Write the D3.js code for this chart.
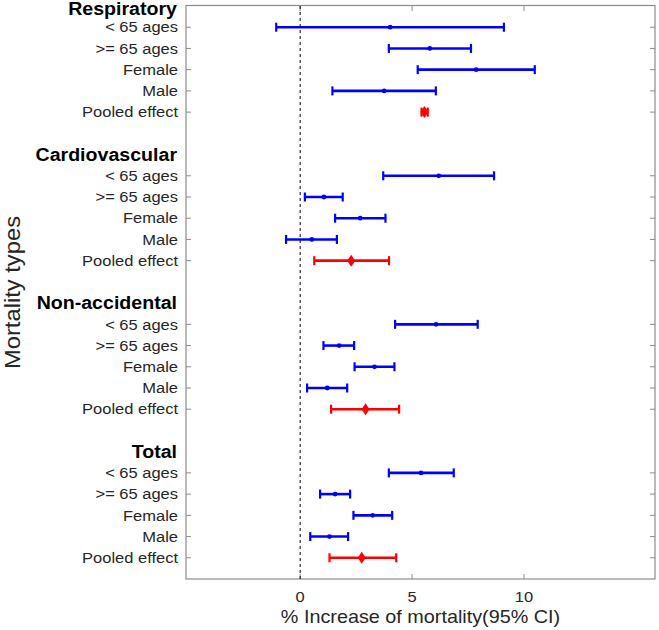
<!DOCTYPE html>
<html><head><meta charset="utf-8">
<script src="https://cdn.jsdelivr.net/npm/d3@7/dist/d3.min.js"></script>
<style>body{margin:0;background:#fff}svg{display:block}text{font-family:"Liberation Sans",Arial,sans-serif}</style>
</head><body><div id="chart"></div>
<script>
const groups = ["Respiratory", "Cardiovascular", "Non-accidental", "Total"];
const subgroups = ["< 65 ages", ">= 65 ages", "Female", "Male", "Pooled effect"];
const estimates = [
  [4.02, 5.79, 7.86, 3.75, 5.55],
  [6.19, 1.06, 2.68, 0.52, 2.28],
  [6.07, 1.74, 3.32, 1.21, 2.92],
  [5.40, 1.56, 3.24, 1.31, 2.75]
];
const lowers = [
  [-1.07, 3.96, 5.25, 1.44, 5.42],
  [3.71, 0.21, 1.56, -0.63, 0.63],
  [4.24, 1.04, 2.43, 0.31, 1.38],
  [3.96, 0.89, 2.38, 0.45, 1.31]
];
const uppers = [
  [9.10, 7.63, 10.48, 6.06, 5.70],
  [8.66, 1.90, 3.81, 1.64, 3.97],
  [7.93, 2.41, 4.21, 2.10, 4.42],
  [6.86, 2.23, 4.11, 2.14, 4.29]
];
const xTicks = [0, 5, 10];
const xTitle = "% Increase of mortality(95% CI)";
const yTitle = "Mortality types";

const W = 659, H = 630;
const L = 186, R = 655, T = 6, B = 579;
const SX = 1.1; // horizontal glyph stretch seen in the reference
const svg = d3.select("#chart").append("svg").attr("width", W).attr("height", H);
const x = d3.scaleLinear().domain([-5.1, 15.85]).range([L, R]);
const y = d3.scaleLinear().domain([0, 27]).range([T, B]);

const rows = [];
groups.forEach((g, gi) => subgroups.forEach((s, si) => rows.push({
  g: gi, label: s, idx: gi * 7 + 1 + si, est: estimates[gi][si], lo: lowers[gi][si], hi: uppers[gi][si], pooled: si === 4
})));

const axisCol = "#8c8c8c";
svg.append("rect").attr("x", L).attr("y", T - 0.5).attr("width", R - L).attr("height", B - T + 0.5)
  .attr("fill", "none").attr("stroke", axisCol).attr("stroke-width", 1.2);

const tickG = svg.append("g");
rows.forEach(r => {
  tickG.append("line").attr("x1", L).attr("x2", L + 5).attr("y1", y(r.idx)).attr("y2", y(r.idx)).attr("stroke", axisCol);
  tickG.append("line").attr("x1", R - 5).attr("x2", R).attr("y1", y(r.idx)).attr("y2", y(r.idx)).attr("stroke", axisCol);
});
xTicks.forEach(t => {
  tickG.append("line").attr("x1", x(t)).attr("x2", x(t)).attr("y1", T).attr("y2", T + 5).attr("stroke", axisCol);
  tickG.append("line").attr("x1", x(t)).attr("x2", x(t)).attr("y1", B - 5).attr("y2", B).attr("stroke", axisCol);
});

svg.append("g").selectAll("text").data(xTicks).join("text")
  .attr("transform", d => `translate(${x(d)},602) scale(${SX},1)`).attr("text-anchor", "middle")
  .attr("font-size", 15).attr("fill", "#262626").text(d => d);

svg.append("g").selectAll("text").data(rows).join("text")
  .attr("transform", d => `translate(178,${y(d.idx)}) scale(${SX},1)`).attr("dy", "0.35em").attr("text-anchor", "end")
  .attr("font-size", 15).attr("fill", "#262626").text(d => d.label);

svg.append("g").selectAll("text").data(groups).join("text")
  .attr("transform", (d, i) => `translate(177,${Math.max(y(i * 7), 9)}) scale(1.12,1)`).attr("dy", "0.35em").attr("text-anchor", "end")
  .attr("font-size", 17.5).attr("font-weight", "bold").attr("fill", "#000").text(d => d);

svg.append("line").attr("x1", x(0)).attr("x2", x(0)).attr("y1", T).attr("y2", B)
  .attr("stroke", "#000").attr("stroke-width", 1).attr("stroke-dasharray", "3,3");

const eb = svg.append("g");
rows.forEach(r => {
  const col = r.pooled ? "#ff0000" : "#0000ff";
  const yy = y(r.idx);
  eb.append("line").attr("x1", x(r.lo)).attr("x2", x(r.hi)).attr("y1", yy).attr("y2", yy).attr("stroke", col).attr("stroke-width", 2.6);
  [r.lo, r.hi].forEach(v => eb.append("line").attr("x1", x(v)).attr("x2", x(v)).attr("y1", yy - 4.5).attr("y2", yy + 4.5).attr("stroke", col).attr("stroke-width", 2.2));
  if (r.pooled) {
    const cx = x(r.est);
    eb.append("path").attr("d", `M${cx},${yy - 6}L${cx + 4},${yy}L${cx},${yy + 6}L${cx - 4},${yy}Z`).attr("fill", col);
  } else {
    eb.append("circle").attr("cx", x(r.est)).attr("cy", yy).attr("r", 2.4).attr("fill", col);
  }
});

svg.append("text").attr("transform", `translate(${(L + R) / 2},623) scale(${SX},1)`).attr("text-anchor", "middle")
  .attr("font-size", 18).attr("fill", "#262626").text(xTitle);
svg.append("text").attr("transform", `translate(20,${(T + B) / 2}) rotate(-90) scale(1.08,1)`).attr("text-anchor", "middle")
  .attr("font-size", 22).attr("fill", "#262626").text(yTitle);
</script></body></html>
